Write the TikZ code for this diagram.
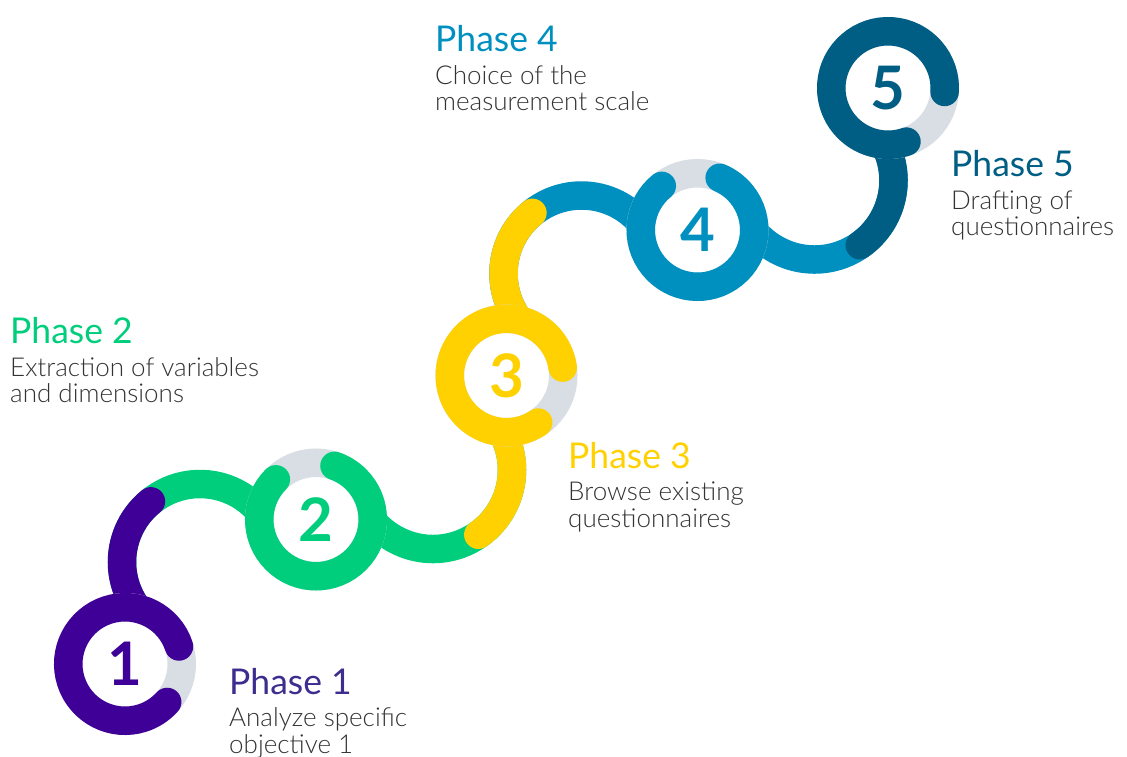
\documentclass[tikz,border=0pt]{standalone}
\usepackage{fontspec}
\setmainfont{Lato}
\newfontfamily\lightfont{Lato Light}

\definecolor{violetP}{HTML}{3F0097}
\definecolor{violetT}{HTML}{3E2C8F}
\definecolor{greenP}{HTML}{00CE7C}
\definecolor{yellowP}{HTML}{FFD100}
\definecolor{blueP}{HTML}{0090C0}
\definecolor{navyP}{HTML}{005E85}
\definecolor{gapgrey}{HTML}{D9DEE4}
\definecolor{textgrey}{HTML}{333333}

\begin{document}
\begin{tikzpicture}[x=1pt, y=1pt,
  track/.style={line width=28.5pt},
  phase/.style={anchor=base west, inner sep=0pt, font=\fontsize{35.5}{40}\selectfont},
  desc/.style={anchor=base west, inner sep=0pt, align=left, text=textgrey,
    font=\lightfont\fontsize{26}{26.5}\selectfont},
  digit/.style={inner sep=0pt, font=\bfseries\fontsize{60}{60}\selectfont}]
\useasboundingbox (0,0) rectangle (1127,756);

% ring centres
\foreach \i/\x/\y in {1/125/92, 2/316/236.5, 3/506.5/380.5, 4/697.5/526, 5/888/668}
  \coordinate (c\i) at (\x,\y);

% upper bends: odd ring up to the next ring
\foreach \a/\lo/\hi in {1/violetP/greenP, 3/yellowP/blueP} {
  \coordinate (up\a) at ([shift={(75,102)}]c\a);
  \draw[track, \hi] (up\a) ++(215:78) arc[start angle=215, end angle=30, radius=78];
  \draw[track, \lo, line cap=round] (up\a) ++(215:78) arc[start angle=215, end angle=129, radius=78];
}
% lower bends: even ring up to the next ring
\foreach \a/\lo/\hi in {2/greenP/yellowP, 4/blueP/navyP} {
  \coordinate (dn\a) at ([shift={(117,49.5)}]c\a);
  \draw[track, \lo] (dn\a) ++(200:79) arc[start angle=200, end angle=390, radius=79];
  \draw[track, \hi, line cap=round] (dn\a) ++(305:79) arc[start angle=305, end angle=390, radius=79];
}

% rings with numbers
\foreach \i/\col/\from/\to in {1/violetP/18/318, 2/greenP/135/431, 3/yellowP/8/304,
                               4/blueP/129/427, 5/navyP/-4/289} {
  \draw[track, gapgrey, fill=white] (c\i) circle[radius=56.75];
  \draw[track, \col, line cap=round] (c\i) ++(\from:56.75) arc[start angle=\from, end angle=\to, radius=56.75];
  \node[digit, text=\col] (n\i) at (c\i) {\i};
}

% labels (base anchor of a two-line node sits on its last line)
\node[phase, text=violetT] (title1) at (229,62) {Phase 1};
\node[desc] (label1) at (229,3) {Analyze specific\\objective 1};

\node[phase, text=greenP] (title2) at (10,412) {Phase 2};
\node[desc] (label2) at (10,353) {Extraction of variables\\and dimensions};

\node[phase, text=yellowP] (title3) at (568,288) {Phase 3};
\node[desc] (label3) at (568,229) {Browse existing\\questionnaires};

\node[phase, text=blueP] (title4) at (435,704) {Phase 4};
\node[desc] (label4) at (435,645) {Choice of the\\measurement scale};

\node[phase, text=navyP] (title5) at (951,579) {Phase 5};
\node[desc] (label5) at (951,520) {Drafting of\\questionnaires};
\end{tikzpicture}
\end{document}
